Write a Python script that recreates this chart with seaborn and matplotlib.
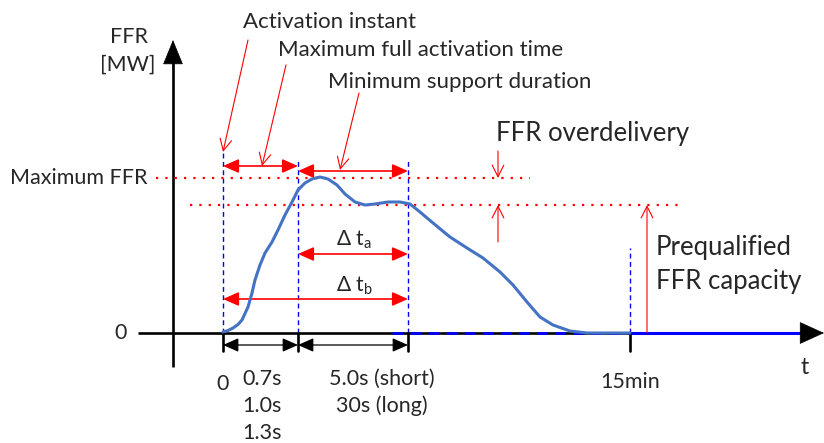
import matplotlib
matplotlib.use("Agg")
import matplotlib.pyplot as plt
import seaborn as sns
import pandas as pd

# ---- data (schematic units: time offset / power level) ----
curve_t = [0, 5, 10, 15, 19, 25, 29, 32, 37, 42, 49, 55, 62, 69, 75, 82, 89, 97, 105, 114,
           122, 132, 142, 152, 165, 177, 187, 197, 210, 227, 244, 260, 277, 290, 304, 317,
           330, 347, 364, 407]
curve_p = [1, 2.5, 5, 8.5, 13, 26, 40, 53, 68, 80, 91, 103, 118, 131, 143, 150, 154, 156,
           154, 148, 139, 131, 128, 129, 131, 131, 129, 121, 110, 96, 85, 75, 61, 48, 31,
           16, 8, 2, 0, 0]

event_times = [0, 75, 185, 407]          # activation, full activation, end of support, 15 min
max_ffr = 155
prequal_ffr = 128
full_act_labels = ["0.7s", "1.0s", "1.3s"]
support_labels = ["5.0s (short)", "30s (long)"]

sns.set_style("white")
plt.rcParams["font.family"] = ["Lato", "DejaVu Sans"]

RED = "#FF0000"
BLUE = "#0000FF"
CURVE = "#4472C4"
FS = 15.5
FB = 18.5

fig = plt.figure(figsize=(8.24, 4.43), dpi=100)
ax = fig.add_axes([0, 0, 1, 1])


def P(x, y):
    return (x - 223, 333 - y)


t0, t1, t2, t3 = event_times

# curve
df = pd.DataFrame({"t": curve_t, "p": curve_p})
sns.lineplot(data=df, x="t", y="p", ax=ax, color=CURVE, lw=2.2, zorder=4, sort=False,
             solid_joinstyle="round", solid_capstyle="round")
ax.set_xlim(-223, 601)
ax.set_ylim(-110, 333)
ax.axis("off")

# axes
ax.plot([P(138, 0)[0], P(810, 0)[0]], [0, 0], color="black", lw=1.9, solid_capstyle="butt", zorder=2)
ax.annotate("", xy=P(824, 333), xytext=P(800, 333),
            arrowprops=dict(arrowstyle="-|>,head_length=1.1,head_width=0.5", mutation_scale=15,
                            color="black", lw=0.5, shrinkA=0, shrinkB=0), zorder=5)
ax.plot([P(173, 0)[0]] * 2, [P(0, 367)[1], P(0, 60)[1]], color="black", lw=1.9, solid_capstyle="butt", zorder=2)
ax.annotate("", xy=P(173, 40), xytext=P(173, 70),
            arrowprops=dict(arrowstyle="-|>,head_length=1.1,head_width=0.45", mutation_scale=15,
                            color="black", lw=0.5, shrinkA=0, shrinkB=0), zorder=5)

# blue dashed/solid zero line segments
ax.plot([P(392, 0)[0], t3], [0, 0], color=BLUE, lw=2.0, ls=(0, (4, 2.5)), zorder=3)
ax.plot([t3, P(808, 0)[0]], [0, 0], color=BLUE, lw=2.2, solid_capstyle="butt", zorder=3)

# tick marks below axis
for t in event_times:
    ax.plot([t, t], [0, P(0, 351)[1]], color="black", lw=1.9, zorder=3)

# tick labels
ax.text(t0, P(0, 384)[1], "0", ha="center", va="center", fontsize=FS)
for i, lab in enumerate(full_act_labels):
    ax.text(P(262, 0)[0], P(0, 379 + 27 * i)[1], lab, ha="center", va="center", fontsize=FS)
for i, lab in enumerate(support_labels):
    ax.text(P(382, 0)[0], P(0, 379 + 27 * i)[1], lab, ha="center", va="center", fontsize=FS)
ax.text(t3, P(0, 382)[1], "15min", ha="center", va="center", fontsize=FS)
ax.text(*P(805, 368), "t", ha="center", va="center", fontsize=FS + 1)
ax.text(*P(121, 333), "0", ha="center", va="center", fontsize=FS)
ax.text(*P(129, 37), "FFR", ha="center", va="center", fontsize=FS)
ax.text(*P(128, 65), "[MW]", ha="center", va="center", fontsize=FS)
ax.text(*P(148, 178), "Maximum FFR", ha="right", va="center", fontsize=FS)

# black arrows below axis
blk = dict(arrowstyle="<|-|>,head_length=0.95,head_width=0.42", mutation_scale=10, color="black",
           lw=0.9, shrinkA=0, shrinkB=0)
ax.annotate("", xy=(t0, P(0, 345)[1]), xytext=(t1, P(0, 345)[1]), arrowprops=blk)
ax.annotate("", xy=(t1, P(0, 345)[1]), xytext=(t2, P(0, 345)[1]), arrowprops=blk)

# vertical blue dashed lines
for t, top in [(t0, 152), (t1, 158), (t2, 158), (t3, 248)]:
    ax.plot([t, t], [0, P(0, top)[1]], color=BLUE, lw=1.0, ls=(0, (3.5, 2.5)), zorder=2)

# red dotted lines
ax.plot([P(156, 0)[0], P(530, 0)[0]], [max_ffr, max_ffr], color=RED, lw=1.6, ls=(0, (1, 3.2)), zorder=2)
ax.plot([P(190, 0)[0], P(680, 0)[0]], [prequal_ffr, prequal_ffr], color=RED, lw=1.6, ls=(0, (1, 3.2)), zorder=2)

# red double arrows
red2 = dict(arrowstyle="<|-|>,head_length=0.95,head_width=0.42", mutation_scale=10, color=RED,
            lw=1.2, shrinkA=0, shrinkB=0)
ax.annotate("", xy=(t0, P(0, 166)[1]), xytext=(t1, P(0, 166)[1]), arrowprops=red2)
ax.annotate("", xy=(t1, P(0, 171)[1]), xytext=(t2, P(0, 171)[1]), arrowprops=red2)
ax.annotate("", xy=(t1, P(0, 254)[1]), xytext=(t2, P(0, 254)[1]), arrowprops=red2)
ax.annotate("", xy=(t0, P(0, 299)[1]), xytext=(t2, P(0, 299)[1]), arrowprops=red2)
ax.text(*P(354, 240), r"Δ t$_\mathregular{a}$", ha="center", va="center", fontsize=15)
ax.text(*P(354, 286), r"Δ t$_\mathregular{b}$", ha="center", va="center", fontsize=15)

# thin red pointer arrows
thin = dict(arrowstyle="->,head_length=0.6,head_width=0.3", mutation_scale=14, color=RED,
            lw=0.8, shrinkA=0, shrinkB=0)
ax.annotate("", xy=P(223, 152), xytext=P(248, 40), arrowprops=thin)
ax.annotate("", xy=P(262, 166), xytext=P(286, 65), arrowprops=thin)
ax.annotate("", xy=P(340, 170), xytext=P(359, 93), arrowprops=thin)
ax.annotate("", xy=P(498, 178), xytext=P(498, 151), arrowprops=thin)
ax.annotate("", xy=P(498, 205), xytext=P(498, 242), arrowprops=thin)
ax.annotate("", xy=P(647, 205), xytext=P(647, 333), arrowprops=thin)

ax.text(*P(243, 22), "Activation instant", ha="left", va="center", fontsize=FS + 0.5)
ax.text(*P(278, 50), "Maximum full activation time", ha="left", va="center", fontsize=FS + 0.5)
ax.text(*P(328, 82), "Minimum support duration", ha="left", va="center", fontsize=FS + 0.5)
ax.text(*P(496, 133), "FFR overdelivery", ha="left", va="center", fontsize=FB)
ax.text(*P(656, 247), "Prequalified", ha="left", va="center", fontsize=FB)
ax.text(*P(656, 282), "FFR capacity", ha="left", va="center", fontsize=FB)

fig.savefig("out.png", dpi=100)
